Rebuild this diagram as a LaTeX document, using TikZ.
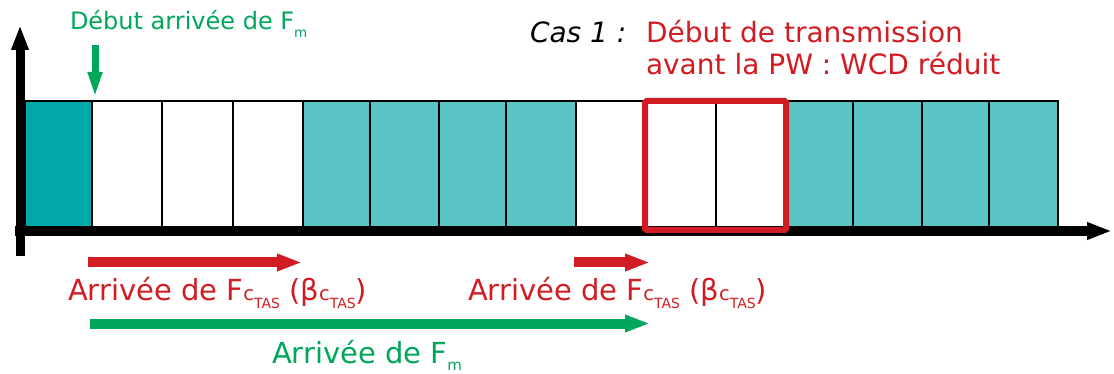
\documentclass[tikz,border=0pt]{standalone}
\usepackage{fontspec}
\setmainfont{DejaVu Sans}
\usetikzlibrary{arrows.meta}
\definecolor{myred}{RGB}{208,28,34}
\definecolor{mygreen}{RGB}{0,166,90}
\definecolor{tealdark}{RGB}{0,168,170}
\definecolor{teallight}{RGB}{91,197,198}
\newcommand{\ctas}{{\fontsize{19.5}{19.5}\selectfont c\raisebox{-9pt}{\fontsize{14}{14}\selectfont TAS}}}
\begin{document}
\begin{tikzpicture}[x=1pt,y=-1pt,
  cell/.style={draw=black,line width=2.5pt,inner sep=0pt,outer sep=0pt,minimum height=127pt},
  axis/.style={line width=10pt,-{Triangle[length=25pt,width=16pt]}},
  fat/.style={line width=10pt,-{Triangle[length=25pt,width=16pt]}},
  txt/.style={inner sep=0pt,outer sep=0pt,anchor=base west},
  big/.style={font=\fontsize{29}{32}\selectfont},
  mid/.style={font=\fontsize{28}{32}\selectfont},
  small/.style={font=\fontsize{24}{28}\selectfont}]
\useasboundingbox (0,0) rectangle (1114,374);
% cells
\foreach \l/\r/\f [count=\i] in {25/92/tealdark,92/162/white,162/233/white,233/303/white,
  303/370/teallight,370/439/teallight,439/506/teallight,506/576/teallight,576/645/white,
  645/716/white,716/786/white,786/853/teallight,853/922/teallight,922/989/teallight,989/1058/teallight}
  \node[cell,fill=\f,minimum width={\r-\l}] (c\i) at ({(\l+\r)/2},164.5) {};
% axes
\coordinate (xs) at (15,231);
\coordinate (xe) at (1112,231);
\coordinate (ys) at (20,256);
\coordinate (ye) at (20,25);
\draw[axis] (xs) -- (xe);
\draw[line width=9pt,-{Triangle[length=25pt,width=16pt]}] (ys) -- (ye);
% red box
\draw[myred,line width=6pt,rounded corners=1.5pt] (c10.north west) rectangle ([yshift=-2pt]c11.south east);
% green down arrow
\coordinate (ga) at (95,45);
\coordinate (gb) at (95,98);
\draw[mygreen,line width=7pt,-{Triangle[length=26pt,width=13pt]}] (ga) -- (gb);
% texts top
\node[txt,small,text=mygreen] (t1) at (70,29.3) {Début arrivée de F\raisebox{-8pt}{\fontsize{13.5}{13.5}\selectfont m}};
\node[txt,mid,font=\fontsize{28}{32}\selectfont\itshape] (cas) at (530,42.3) {Cas 1 :};
\node[txt,mid,text=myred] (d1) at (646,42.3) {Début de transmission};
\node[txt,mid,text=myred] (d2) at (646,74.3) {avant la PW : WCD réduit};
% bottom arrows
\coordinate (r1a) at (88,262.5);
\coordinate (r1b) at (302,262.5);
\coordinate (r2a) at (574,262.5);
\coordinate (r2b) at (650,262.5);
\coordinate (g1a) at (90,323.5);
\coordinate (g1b) at (650,323.5);
\draw[fat,myred] (r1a) -- (r1b);
\draw[fat,myred] (r2a) -- (r2b);
\draw[fat,mygreen] (g1a) -- (g1b);
% bottom texts
\node[txt,big,text=myred] (a1) at (68,300) {Arrivée de F\ctas{} (β\ctas)};
\node[txt,big,text=myred] (a2) at (468,300) {Arrivée de F\ctas{} (β\ctas)};
\node[txt,big,text=mygreen] (a3) at (272,363) {Arrivée de F\raisebox{-7pt}{\fontsize{15}{15}\selectfont m}};
\end{tikzpicture}
\end{document}
